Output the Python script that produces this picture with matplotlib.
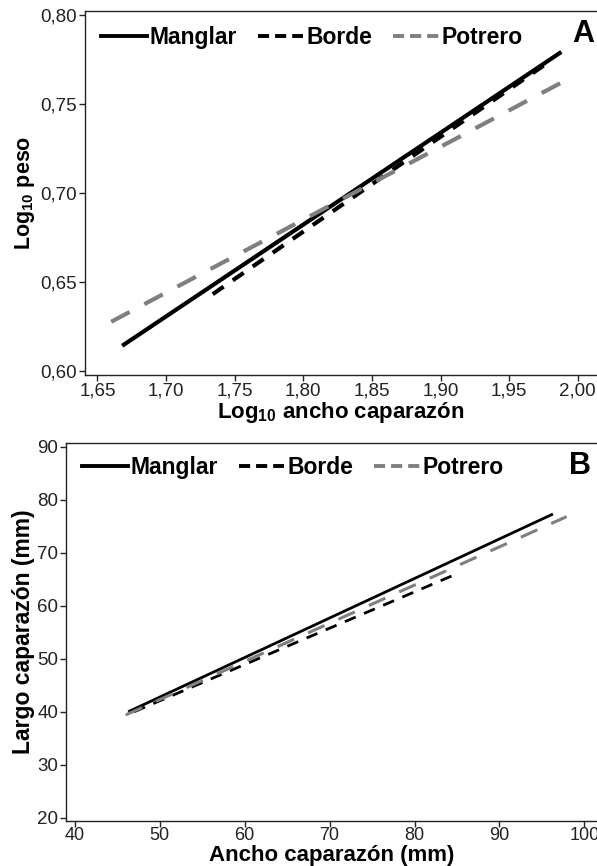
import matplotlib
matplotlib.use("Agg")
import matplotlib.pyplot as plt
from matplotlib.lines import Line2D
from matplotlib.ticker import FuncFormatter, MultipleLocator

plt.rcParams["font.family"] = ["Liberation Sans", "DejaVu Sans"]
plt.rcParams["mathtext.fontset"] = "custom"
plt.rcParams["mathtext.rm"] = "Liberation Sans:bold"
plt.rcParams["mathtext.default"] = "rm"
plt.rcParams["lines.scale_dashes"] = False

# Datos: rectas ajustadas (extremos) por sitio
sites = ["Manglar", "Borde", "Potrero"]

# (A) log10 ancho caparazón vs log10 peso
a_manglar_x = [1.668, 1.988]
a_manglar_y = [0.614, 0.779]
a_borde_x = [1.734, 1.981]
a_borde_y = [0.643, 0.7745]
a_potrero_x = [1.660, 1.991]
a_potrero_y = [0.6275, 0.763]

# (B) ancho caparazón vs largo caparazón (mm)
b_manglar_x = [46.3, 96.3]
b_manglar_y = [40.0, 77.3]
b_borde_x = [47.0, 84.8]
b_borde_y = [40.0, 65.9]
b_potrero_x = [46.0, 97.9]
b_potrero_y = [39.4, 76.8]

gray = "#7f7f7f"

fig = plt.figure(figsize=(5.97, 8.66), dpi=100)
W, H = 597.0, 866.0

def comma(fmt):
    return FuncFormatter(lambda v, p: fmt.format(v).replace(".", ","))

def style_axes(ax):
    ax.spines["right"].set_visible(False)
    for s in ["left", "bottom", "top"]:
        ax.spines[s].set_linewidth(1.0)
        ax.spines[s].set_color("#222222")
    ax.tick_params(direction="out", length=4, width=1.0, labelsize=13.5,
                   colors="#222222", pad=1.5)

def add_legend(ax, y):
    handles = [
        Line2D([], [], color="black", lw=2.8),
        Line2D([], [], color="black", lw=2.8, dashes=(8, 4.3)),
        Line2D([], [], color=gray, lw=2.8, dashes=(8, 4.3)),
    ]
    ax.legend(handles, sites, loc="center left", bbox_to_anchor=(0.0, y),
              ncol=3, frameon=False, handlelength=2.0, handletextpad=0.12,
              columnspacing=0.9, borderaxespad=0.3,
              prop={"weight": "bold", "size": 16.5})

# ---- Panel A ----
axA = fig.add_axes([85 / W, 1 - 375 / H, (W - 85) / W, (375 - 11) / H])
axA.plot(a_borde_x, a_borde_y, color="black", lw=3.0, dashes=(9.5, 8))
axA.plot(a_manglar_x, a_manglar_y, color="black", lw=3.0, solid_capstyle="butt")
axA.plot(a_potrero_x, a_potrero_y, color=gray, lw=3.0, dashes=(15, 12))
axA.set_xlim(1.6409, 2.014)
axA.set_ylim(0.5976, 0.802)
axA.xaxis.set_major_locator(MultipleLocator(0.05))
axA.yaxis.set_major_locator(MultipleLocator(0.05))
axA.xaxis.set_major_formatter(comma("{:.2f}"))
axA.yaxis.set_major_formatter(comma("{:.2f}"))
style_axes(axA)
axA.set_xlabel(r"Log$_{10}$ ancho caparazón", fontsize=16, fontweight="bold",
               labelpad=0)
axA.set_ylabel(r"Log$_{10}$ peso", fontsize=15.5, fontweight="bold", labelpad=3)
add_legend(axA, 0.927)
fig.text(583 / W, 1 - 34 / H, "A", fontsize=22, fontweight="bold",
         ha="center", va="center")

# ---- Panel B ----
axB = fig.add_axes([66 / W, 1 - 821 / H, (W - 66) / W, (821 - 442.7) / H])
axB.plot(b_manglar_x, b_manglar_y, color="black", lw=2.0, solid_capstyle="butt")
axB.plot(b_borde_x, b_borde_y, color="black", lw=2.0, dashes=(8.5, 6.5))
axB.plot(b_potrero_x, b_potrero_y, color=gray, lw=2.2, dashes=(13, 11))
axB.set_xlim(38.98, 101.48)
axB.set_ylim(19.4, 90.75)
axB.xaxis.set_major_locator(MultipleLocator(10))
axB.yaxis.set_major_locator(MultipleLocator(10))
style_axes(axB)
axB.tick_params(axis="x", pad=0.5, labelsize=13)
axB.set_xlabel("Ancho caparazón (mm)", fontsize=16, fontweight="bold",
               labelpad=0.5)
axB.set_ylabel("Largo caparazón (mm)", fontsize=16.5, fontweight="bold",
               labelpad=2)
add_legend(axB, 0.935)
fig.text(580 / W, 1 - 466 / H, "B", fontsize=22, fontweight="bold",
         ha="center", va="center")

plt.savefig("out.png", dpi=100)
plt.close()
